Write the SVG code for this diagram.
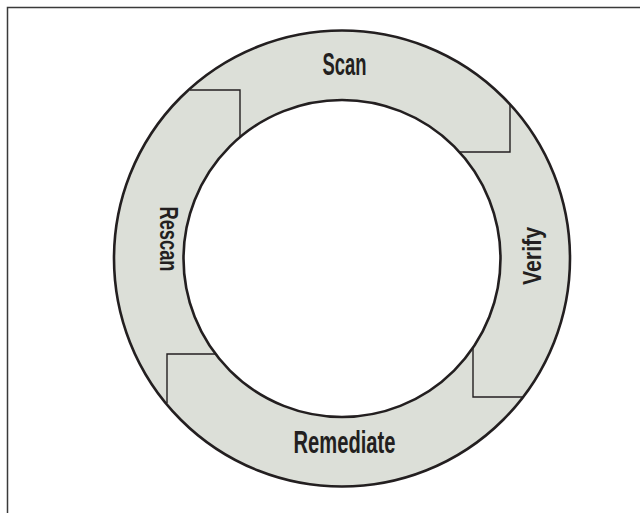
<svg xmlns="http://www.w3.org/2000/svg" width="640" height="513" viewBox="0 0 640 513">
  <style>
    .ring { stroke: #231f20; stroke-width: 2.6; }
    .div { fill: none; stroke: #231f20; stroke-width: 1.4; }
    .lbl { font-family: "Liberation Sans", Arial, sans-serif; font-weight: bold; fill: #231f20; }
  </style>
  <rect x="0" y="0" width="640" height="513" fill="#ffffff"/>
  <path d="M7.5,513 V7.5 H640" fill="none" stroke="#3a3a3a" stroke-width="1.5"/>
  <g id="ring">
    <circle class="ring" cx="342" cy="258.5" r="228" fill="#dcdfd8"/>
    <circle class="ring" cx="342" cy="258.5" r="158.5" fill="#ffffff"/>
  </g>
  <g id="connectors">
    <path class="div" d="M190,90 H240 V137.5"/>
    <path class="div" d="M510,105 V152 H460"/>
    <path class="div" d="M473,348 V397 H523"/>
    <path class="div" d="M215,354 H167 V403"/>
  </g>
  <g id="scan">
    <text class="lbl" x="344.5" y="74.5" font-size="32" text-anchor="middle" textLength="44" lengthAdjust="spacingAndGlyphs">Scan</text>
  </g>
  <g id="verify">
    <text class="lbl" transform="translate(541,256) rotate(-90)" x="0" y="0" font-size="25" text-anchor="middle" textLength="58" lengthAdjust="spacingAndGlyphs">Verify</text>
  </g>
  <g id="remediate">
    <text class="lbl" x="344.5" y="452.7" font-size="32" text-anchor="middle" textLength="102" lengthAdjust="spacingAndGlyphs">Remediate</text>
  </g>
  <g id="rescan">
    <text class="lbl" transform="translate(159.6,239) rotate(90)" x="0" y="0" font-size="25" text-anchor="middle" textLength="65" lengthAdjust="spacingAndGlyphs">Rescan</text>
  </g>
</svg>
